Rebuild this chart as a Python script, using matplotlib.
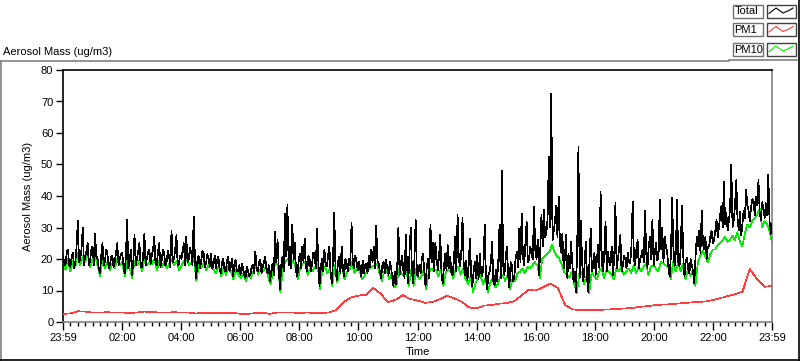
import numpy as np
import matplotlib
matplotlib.use("Agg")
import matplotlib.pyplot as plt
from matplotlib.patches import Rectangle
from matplotlib.lines import Line2D

plt.rcParams['font.family'] = ['Liberation Sans', 'DejaVu Sans']
plt.rcParams['font.size'] = 8

# ---- data (ug/m3) from 23:59 over 24 h ----
# Total: 2.5-minute samples (24 per hour)
total = [
    21, 19, 18, 22, 23, 18, 17.5, 20.5, 22, 17, 19, 24, 32, 19, 20, 23, 29.8, 18, 21, 22.5, 25, 18, 19.5, 23,
    24, 18, 28, 21, 20, 17, 15.5, 21, 25, 18, 19, 23, 22, 17, 18, 20.5, 21, 17.5, 19, 22, 25, 18, 20, 21.5,
    22, 18, 15.5, 21, 32.4, 17, 19, 23, 15, 19, 27.6, 18, 20, 22.5, 25, 17.5, 17.5, 21, 28, 18, 20, 22, 23, 18.5,
    21, 23, 27, 18.5, 18, 22, 25, 17.5, 19.5, 23, 22, 18, 19, 22.5, 21, 17.5, 29, 19, 20, 23, 27.6, 18, 18.5, 21,
    20, 22.5, 25, 18, 27, 19, 20, 23.5, 22, 18, 33.4, 20, 14, 19.5, 21, 17, 19, 22.5, 22, 17.5, 18.5, 21.5, 20.5, 17.5,
    21.7, 17, 18, 21, 17, 19.5, 20.8, 17, 15.5, 19, 20, 16.5, 16, 19.5, 20.8, 16, 17.5, 20, 14.5, 18.5, 19.7, 16, 16, 18,
    15, 18.5, 17, 15, 14, 17.5, 16.5, 14.5, 15, 17.5, 18, 15.5, 22.3, 17, 16, 19, 19.7, 15.5, 17.6, 19, 20.8, 16.5, 15.5, 18,
    13, 16.5, 18.6, 15, 28.6, 19, 26, 17, 10.3, 18, 20.8, 16, 34.5, 21, 37.2, 18, 24, 17, 31, 19.5, 25, 16, 14.4, 19,
    21.7, 17, 24, 19, 26.5, 17.5, 16, 21, 20, 16, 18.6, 22, 22, 17, 29.5, 20, 11.3, 17, 20, 16, 23, 18, 17.6, 21,
    24, 16, 12.3, 20, 34.6, 17, 13.4, 19, 20.8, 15.5, 23.9, 17, 14.4, 20, 18.6, 16, 20, 18, 31.5, 19, 17, 21, 19.5, 16.5,
    19, 17, 14.4, 19.5, 15.5, 18, 18.6, 15.5, 21, 17.5, 23, 19, 23.9, 17, 30.5, 19.5, 18.6, 16, 14, 18, 19, 15.5, 19.7, 17,
    15, 19, 17.6, 14, 11.5, 16, 12, 17, 30, 15, 18.6, 21, 16.5, 14, 27.6, 18, 12.3, 22, 30, 16, 12.3, 20, 32.4, 15,
    14.4, 18, 15.5, 20, 21.7, 16, 11.3, 17.5, 20, 14, 31, 19, 25, 16, 25, 20, 16.5, 21, 27.6, 15, 12.3, 18, 21.7, 16.5,
    24.4, 17, 20.8, 15.5, 15, 19.5, 27, 16, 34, 20, 17.6, 22, 33, 18, 15, 19.5, 13.4, 18, 26.5, 15, 11.3, 16, 19, 14,
    21, 13.5, 21.7, 16, 14.4, 18, 31, 14, 10.3, 15, 16, 19, 25.5, 13, 11.7, 16.5, 13, 19, 30.8, 14, 47.9, 18, 15, 20,
    24, 15, 11, 19, 18, 13, 14, 20, 22.3, 17.5, 29.7, 19, 34.5, 21, 18, 25, 31.9, 19, 20, 24, 21.8, 20, 36.6, 23,
    20, 26, 15, 22, 34, 24, 35.5, 27, 28, 33, 52.4, 30, 72.6, 26, 29, 32, 37, 27, 39.8, 25, 22, 28, 17, 20,
    27.6, 14, 21.5, 17, 25.5, 19, 12.8, 16, 9.6, 23, 55.6, 14, 32, 19, 12.8, 18, 25.5, 14, 9.6, 20, 29.7, 16, 18, 22,
    15, 20, 24.4, 17, 41.4, 19, 16, 22, 31.9, 16, 22.3, 19, 18, 24, 15, 20, 37.7, 17, 20, 23, 27.6, 16, 18, 21,
    20, 17, 22, 19, 18.6, 24, 38.2, 20, 18, 23, 26, 17, 20, 21, 23, 19, 35.4, 22, 17, 24, 27, 20, 32.4, 18,
    22, 25, 19.5, 21, 38.7, 23, 30, 19, 27, 24, 22, 17.5, 14.4, 21, 39.3, 24, 17.6, 22, 38.7, 19, 17.6, 24, 37, 21,
    14.4, 19, 20.5, 17, 15.5, 20, 18, 16, 12.3, 21, 27, 24, 29, 22, 35.4, 25, 23, 27, 20, 24, 24, 27, 29, 25,
    26, 29, 32.4, 27, 30, 34, 37, 30, 44.5, 31, 34.5, 29, 32, 36, 50, 30, 32.4, 37, 45, 33, 29, 35, 27.5, 31,
    35.4, 33, 41.9, 37, 35.4, 32, 36.5, 39, 38.7, 34, 39.8, 37, 45, 35, 32.4, 38, 36.5, 33, 37.7, 34, 46.7, 32, 28, 31,
]
# PM10: 5-minute samples (12 per hour)
pm10 = [
    18, 16.5, 20, 16, 19.5, 17.5, 22, 18, 21, 19, 21.5, 17.5,
    20, 21, 18, 14.5, 20, 17, 19, 16.5, 18.5, 17, 20, 18,
    19, 14.5, 20, 17, 14, 19.5, 18, 19.5, 16, 20, 18, 19,
    18.5, 20, 16.5, 19.5, 17.5, 19, 17, 18.5, 20, 18, 19.5, 16.5,
    18, 19.5, 20, 18, 19, 20, 13, 18.5, 17, 19, 16.5, 18,
    18.5, 16.5, 15.5, 18, 14.5, 17.5, 15, 18, 16, 13.5, 17, 15,
    14, 15.5, 13, 15, 14, 16, 18, 15, 17, 16, 17.5, 14.5,
    12, 16, 19, 18, 9.5, 17, 19, 20, 18, 19.5, 18, 13.5,
    17, 18.5, 19, 15, 17, 16, 17.5, 19, 10.5, 16.5, 17.5, 15.5,
    17, 11.5, 18, 12.5, 16.5, 17.5, 13.5, 16, 16.5, 19, 15.5, 17,
    16.5, 13.5, 14.5, 16, 17, 17.5, 18, 18.5, 16, 13, 16, 16.5,
    13.5, 15.5, 11, 11.5, 17, 15.5, 14.5, 16.5, 11.5, 16.5, 11.5, 17,
    13.5, 14.5, 16.5, 10.5, 15.5, 17, 16.5, 16.5, 14.5, 17, 11.5, 16,
    16.5, 16, 14, 17, 17.5, 15, 17, 13.5, 12, 14.5, 9.5, 12.5,
    14, 15, 12, 14, 9.5, 12.5, 14, 11, 12, 14.5, 15, 13,
    15, 10.5, 14, 13, 15.5, 16, 17, 15.5, 17.5, 17, 18, 19,
    18, 14, 20, 21, 21.5, 22.5, 24.5, 22, 21, 20, 18, 15.5,
    15, 14, 16, 12, 9, 15.5, 16, 12, 15, 9, 16, 14.5,
    13.5, 16, 17, 14, 16.5, 16, 15, 13.5, 17, 16, 17.5, 15,
    16, 17, 15.5, 18, 15.5, 17.5, 16, 17.5, 18.5, 15, 17.5, 18,
    17, 16, 19, 18.5, 18, 17.5, 13.5, 19, 16, 19, 16, 18.5,
    13.5, 17, 14.5, 16.5, 11.5, 19, 21, 22.5, 21, 19, 21.5, 23,
    23, 24.5, 25, 26, 27, 25.5, 26, 27.5, 26, 28.5, 25.5, 24,
    28, 31, 30, 32, 33, 34, 36, 30, 32, 31, 29, 25,
]
# PM1: 15-minute samples
pm1 = [
    2.6, 2.7, 3.4, 3.3, 3.0, 3.0, 3.1, 3.0, 3.0, 2.9, 3.0, 3.3, 3.2, 3.0, 3.0, 3.1, 3.0, 3.0, 2.7, 2.9,
    2.9, 2.9, 2.8, 2.9, 2.6, 2.6, 2.8, 2.9, 2.6, 3.0, 3.0, 3.0, 2.9, 3.0, 2.9, 2.9, 3.0, 3.8, 6.3, 7.8,
    8.4, 8.6, 10.8, 9.0, 6.3, 7.0, 8.5, 7.3, 6.8, 6.1, 6.3, 7.2, 8.3, 7.5, 6.4, 4.6, 4.3, 5.2, 5.4, 5.8,
    6.0, 6.5, 8.2, 10.2, 10.0, 11.0, 12.2, 10.8, 5.4, 4.0, 3.8, 3.8, 3.8, 3.9, 4.0, 4.1, 4.3, 4.4, 4.8, 5.0,
    5.3, 5.5, 5.6, 5.8, 6.0, 6.2, 6.4, 6.5, 7.0, 7.6, 8.2, 8.8, 9.6, 16.8, 13.5, 11.2, 11.4,
]
tick_hours = [0, 2, 4, 6, 8, 10, 12, 14, 16, 18, 20, 22, 24]
tick_labels = ["23:59", "02:00", "04:00", "06:00", "08:00", "10:00", "12:00",
               "14:00", "16:00", "18:00", "20:00", "22:00", "23:59"]
series_names = ["Total", "PM1", "PM10"]
series_colors = ["#000000", "#ff3c3c", "#00ee00"]

t_total = np.linspace(0, 24, len(total))
t_pm10 = np.linspace(0, 24, len(pm10))
t_pm1 = np.linspace(0, 24, len(pm1))

W, H = 800, 361
fig = plt.figure(figsize=(W / 100, H / 100), dpi=100)
fig.patch.set_facecolor("white")


def fx(x):
    return x / W


def fy(y):
    return 1 - y / H


ax = fig.add_axes([fx(63), fy(322), 709 / W, 252 / H])
ax.plot(t_pm10, pm10, color=series_colors[2], lw=0.5, zorder=2, antialiased=False)
ax.plot(t_pm1, pm1, color=series_colors[1], lw=0.5, zorder=3, antialiased=False)
ax.plot(t_total, total, color=series_colors[0], lw=0.5, zorder=4, antialiased=False)

ax.set_xlim(0, 24)
ax.set_ylim(0, 80)
ax.set_yticks(range(0, 81, 10))
ax.set_xticks(tick_hours)
ax.set_xticklabels(tick_labels)
ax.set_xticks(np.arange(0, 24.01, 0.25), minor=True)
ax.tick_params(axis="x", which="major", length=6, width=1, pad=2, direction="out")
ax.tick_params(axis="x", which="minor", length=3, width=1, direction="out")
ax.tick_params(axis="y", which="major", length=5, width=1, pad=2, direction="out")
for s in ["left", "top"]:
    ax.spines[s].set_color("black")
    ax.spines[s].set_linewidth(1.2)
for s in ["right", "bottom"]:
    ax.spines[s].set_color("#808080")
    ax.spines[s].set_linewidth(1.2)
ax.set_xlabel("Time", labelpad=3)
ax.set_ylabel("Aerosol Mass (ug/m3)", labelpad=6)

# title above plot
fig.text(fx(3), fy(52), "Aerosol Mass (ug/m3)", ha="left", va="center")

# panel frame
fig.add_artist(Line2D([fx(0), fx(729)], [fy(61), fy(61)], color="#808080", lw=1.2))
fig.add_artist(Line2D([fx(0.5), fx(0.5)], [fy(61), fy(360)], color="#808080", lw=1.2))
fig.add_artist(Line2D([fx(0), fx(800)], [fy(360), fy(360)], color="black", lw=1.2))
fig.add_artist(Line2D([fx(799), fx(799)], [fy(0), fy(360)], color="black", lw=1.2))
fig.add_artist(Line2D([fx(729), fx(797)], [fy(60), fy(60)], color="#808080", lw=1.2))

# legend
rows = [(4.5, 17.5), (23, 36), (42.5, 56)]
for (y0, y1), name, col in zip(rows, series_names, series_colors):
    fig.add_artist(Rectangle((fx(732.5), fy(y1)), 30 / W, (y1 - y0) / H,
                             facecolor="white", edgecolor="#707070", lw=1.0))
    fig.text(fx(734.5), fy((y0 + y1) / 2 + 0.5), name, ha="left", va="center")
    fig.add_artist(Rectangle((fx(767), fy(y1)), 28.5 / W, (y1 - y0) / H,
                             facecolor="white", edgecolor="#404040", lw=1.0))
    xs = [769, 776, 783, 789, 793]
    ys = [y0 + 9, y0 + 3.5, y0 + 8.5, y0 + 6, y0 + 3.5]
    fig.add_artist(Line2D([fx(v) for v in xs], [fy(v) for v in ys], color=col, lw=0.8))

fig.savefig("out.png", dpi=100, facecolor="white")
